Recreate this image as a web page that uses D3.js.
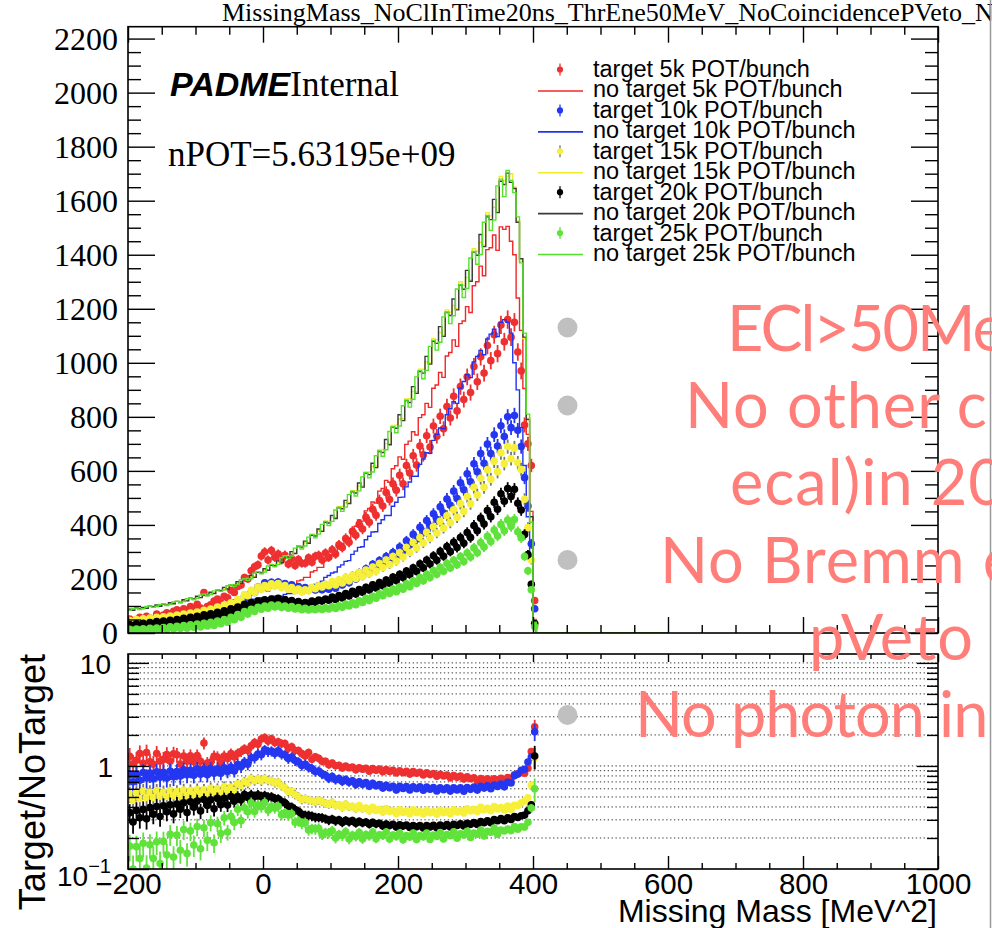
<!DOCTYPE html>
<html>
<head>
<meta charset="utf-8">
<script src="https://cdn.jsdelivr.net/npm/d3@7"></script>
<style>
  html, body { margin: 0; padding: 0; background: #fff; }
  svg { display: block; }
</style>
</head>
<body>
<svg id="chart" width="992" height="928"></svg>
<script>
// ---- binning: 5 MeV^2 bins starting at -200, histogram range ends at 600 ----
const binStart = -200;
const binWidth = 5;
const histEnd = 600;

// ---- tick values ----
const massTicks = [-200, 0, 200, 400, 600, 800, 1000];
const countTicks = [0, 200, 400, 600, 800, 1000, 1200, 1400, 1600, 1800, 2000, 2200];
const ratioTicks = [0.1, 1, 10];

// ---- per-bin contents (121 bins: [-200,-195) ... [400,405)) ----
const target5k = [52,43,50,58, 50,62,55,52, 70,58,66,75, 68,80,86,72, 90,80,98,88, 106,92,150,98, 104,118,126,112, 136,130,158,150, 172,178,205,200, 230,245,252,285,
  300,270,305,280, 292,270,288,255, 275,250,272,258, 258,278,262,284, 288,270,296,280,
  308,292,326,316, 350,336,376,362, 402,385,428,410, 458,436,490,470, 520,494,552,528, 584,552,620,592, 656,622,692,660, 730,688,766,728, 802,756,838,796, 876,822,912,864, 948,890,986,930, 1022,962,1064,1008, 1104,1034,1140,1078,
  1160,1095,1150,1040,970,770,700,620,120];
const noTarget5k = [42,41,44,44, 47,46,50,50, 53,52,57,58, 61,61,67,69, 72,72,78,80, 84,83,90,92, 96,95,103,104, 109,110,120,123, 130,129,140,142, 147,145,155,156,
  159,155,166,166, 170,164,175,172, 179,177,193,196, 206,206,226,231, 243,243,267,273,
  289,291,321,330, 351,350,386,395, 418,414,452,461, 485,481,525,535, 565,558,608,619, 652,643,698,710, 745,733,797,808, 850,835,906,918, 964,946,1025,1038, 1085,1061,1145,1155, 1208,1186,1285,1300, 1358,1322,1419,1426, 1473,1416,1503,1494,
  1505,1450,1400,1240,1120,905,735,450,50];
const target10k = [38,33,41,37, 44,39,47,42, 50,45,53,48, 57,51,60,56, 65,60,70,65, 76,69,81,74, 87,80,93,86, 100,93,109,102, 120,115,134,130, 150,150,170,168,
  186,178,188,180, 189,177,183,172, 178,167,172,162, 168,160,166,159, 165,160,167,162,
  175,166,184,178, 196,186,209,200, 223,212,238,228, 254,241,268,256, 283,268,298,283, 318,304,341,327, 365,348,391,374, 416,395,441,420, 467,444,496,473, 525,498,556,530, 589,560,626,597, 664,628,699,664, 734,692,767,727,
  800,760,805,750,690,575,470,330,90];
const noTarget10k = [46,47,50,51, 51,51,55,56, 57,58,61,63, 64,65,68,70, 71,73,77,80, 81,83,87,90, 92,94,99,101, 104,105,112,114, 116,117,123,125, 125,125,130,131,
  130,129,135,136, 135,136,143,146, 146,148,157,160, 162,165,176,180, 185,192,206,213,
  222,226,244,252, 265,268,291,303, 317,319,345,358, 374,375,405,419, 435,435,469,484, 502,503,541,559, 580,580,624,644, 667,665,713,735, 759,756,808,830, 856,850,907,931, 956,945,1003,1024, 1046,1030,1088,1106, 1124,1097,1150,1160,
  1150,1110,1000,900,760,620,430,270,42];
const target15k = [46,40,50,44, 53,46,55,49, 58,51,60,54, 63,56,66,60, 70,62,74,67, 78,71,84,76, 89,82,96,88, 103,95,112,104, 124,120,142,138, 158,150,170,162,
  176,168,182,174, 183,168,176,162, 168,156,163,152, 160,156,168,164, 175,170,180,175,
  190,178,197,185, 206,193,214,202, 224,209,233,219, 244,229,257,242, 270,253,283,266, 297,281,316,298, 335,315,353,333, 373,351,393,370, 413,388,434,408, 456,428,479,450, 505,478,539,511, 573,539,604,569, 636,597,667,627,
  690,645,685,630,605,495,390,270,36];
const noTarget15k = [86,86,91,91, 93,93,99,99, 101,100,108,107, 109,109,117,117, 120,120,128,128, 132,132,143,143, 147,147,160,160, 164,165,179,180, 185,186,201,202, 208,208,227,227,
  233,233,254,254, 262,262,286,286, 295,295,323,323, 333,334,365,366, 378,378,414,414,
  427,428,467,468, 482,482,527,527, 544,544,596,596, 616,618,678,679, 701,702,768,769, 792,793,866,867, 894,893,976,976, 1004,1000,1089,1086, 1112,1103,1196,1187, 1212,1200,1300,1287, 1316,1308,1422,1414, 1446,1435,1556,1544, 1576,1561,1690,1674,
  1690,1700,1650,1525,1375,1090,795,415,30];
const target20k = [31,24,34,28, 36,28,39,33, 42,32,44,37, 47,37,50,43, 54,42,58,50, 62,48,67,58, 71,56,77,66, 82,68,90,80, 96,86,106,98, 112,104,118,112,
  123,116,126,120, 128,118,124,115, 120,111,116,108, 113,110,118,114, 122,118,126,121,
  133,124,139,130, 146,137,154,144, 161,151,169,159, 178,167,187,175, 196,184,207,194, 217,205,229,216, 241,228,256,241, 270,255,286,269, 302,284,320,301, 336,316,353,332, 372,353,398,378, 425,403,453,430, 484,458,515,488,
  535,505,532,480,455,365,290,180,35];
const noTarget20k = [88,84,92,89, 95,91,99,97, 104,99,107,103, 112,108,117,113, 123,119,129,126, 136,131,142,140, 151,146,159,157, 169,163,178,176, 190,184,201,198, 213,206,225,222,
  238,232,251,249, 267,261,283,281, 301,294,320,318, 340,332,362,359, 385,376,410,407,
  435,424,463,460, 491,479,523,518, 555,540,591,586, 628,612,672,668, 716,697,762,758, 808,786,860,853, 912,887,968,962, 1024,995,1080,1072, 1134,1098,1186,1175, 1236,1196,1288,1272, 1342,1302,1410,1398, 1475,1430,1540,1530, 1605,1556,1672,1660,
  1702,1668,1645,1520,1385,1095,790,430,28];
const target25k = [14,9,15,11, 16,10,17,12, 18,12,20,14, 23,15,25,17, 28,18,30,21, 33,22,36,26, 40,28,44,34, 50,40,58,49, 68,58,79,70, 88,80,95,88,
  100,92,103,96, 103,94,100,92, 98,89,94,86, 91,85,90,86, 91,87,93,89,
  97,91,101,95, 107,100,112,105, 119,113,128,120, 136,129,145,138, 155,146,163,153, 171,162,182,171, 193,183,205,193, 217,205,231,217, 243,229,257,241, 269,253,283,265, 296,281,315,297, 335,318,358,339, 381,359,402,378,
  418,395,420,375,352,283,230,160,24];
const noTarget25k = [84,90,91,87, 90,98,99,95, 98,106,108,102, 106,115,117,112, 116,127,128,123, 128,140,143,137, 142,156,160,154, 159,175,179,173, 179,197,201,195, 201,221,227,219,
  226,248,254,245, 254,279,285,276, 285,314,322,311, 322,355,365,352, 366,402,413,398,
  413,455,466,450, 466,512,525,507, 526,578,593,574, 596,656,674,654, 678,746,764,741, 766,841,862,836, 865,948,971,941, 972,1061,1083,1047, 1076,1170,1188,1145, 1174,1273,1290,1242, 1275,1388,1412,1365, 1401,1520,1545,1490, 1528,1655,1680,1615,
  1712,1675,1630,1540,1370,1110,810,410,40];

// ---- labels ----
const intensities = ["5k", "10k", "15k", "20k", "25k"];
const legendLabels = [
  "target 5k POT/bunch", "no target 5k POT/bunch",
  "target 10k POT/bunch", "no target 10k POT/bunch",
  "target 15k POT/bunch", "no target 15k POT/bunch",
  "target 20k POT/bunch", "no target 20k POT/bunch",
  "target 25k POT/bunch", "no target 25k POT/bunch"
];
const titleText = "MissingMass_NoClInTime20ns_ThrEne50MeV_NoCoincidencePVeto_N";
const nPotText = "nPOT=5.63195e+09";
const slideLines = ["ECl>50MeV", "No other cl", "ecal)in 20ns", "No Bremm ev", "pVeto", "No photon in"];

// ---- styles ----
const markerFill = ["#ee3030", "#2436f0", "#f6f03a", "#000000", "#5fe23a"];
const errStroke  = ["#ee3030", "#2436f0", "#777777", "#000000", "#5fe23a"];
const lineStroke = ["#f02828", "#2233ee", "#f2ea2a", "#3a3a3a", "#55e02c"];
const serif = "'Liberation Serif','Times New Roman',serif";
const sans = "'Liberation Sans',Arial,Helvetica,sans-serif";

const targets = [target5k, target10k, target15k, target20k, target25k];
const noTargets = [noTarget5k, noTarget10k, noTarget15k, noTarget20k, noTarget25k];

const svg = d3.select("#chart");
svg.append("rect").attr("width", 992).attr("height", 928).attr("fill", "#fff");

// ---- scales ----
const x = d3.scaleLinear().domain([-200, 1000]).range([128, 938]);
const y = d3.scaleLinear().domain([0, 2244]).range([633, 26.7]);
const yr = d3.scaleLog().domain([0.1, 12.2]).range([869, 654]);

const centerOf = i => binStart + binWidth * (i + 0.5);
const edgeOf = i => binStart + binWidth * i;

function plainTicks(sel, axis, width) {
  sel.call(axis);
  sel.select(".domain").remove();
  sel.selectAll(".tick line").attr("stroke", "#000").attr("stroke-width", width);
  return sel;
}
const minorRange = (a, b, step, skip) => d3.range(a, b + 1e-9, step).filter(v => !skip.includes(v));

// ================= upper pad =================
svg.append("text")
  .attr("x", 222).attr("y", 21)
  .attr("font-family", serif).attr("font-size", 26)
  .text(titleText);

svg.append("clipPath").attr("id", "upClip")
  .append("rect").attr("x", 128).attr("y", 26.7).attr("width", 810).attr("height", 606.3);

const upData = svg.append("g").attr("clip-path", "url(#upClip)");

const stepLine = d3.line()
  .x(d => x(d[0])).y(d => y(d[1]))
  .curve(d3.curveStepAfter);

function histPoints(vals) {
  const pts = vals.map((v, i) => [edgeOf(i), v]);
  const last = edgeOf(vals.length);
  pts.push([last, 0], [histEnd, 0]);
  return pts;
}

intensities.forEach((name, k) => {
  // target markers with statistical error bars
  const g = upData.append("g");
  targets[k].forEach((v, i) => {
    if (v <= 0) return;
    const e = Math.sqrt(v);
    const cx = x(centerOf(i));
    g.append("line")
      .attr("x1", cx).attr("x2", cx)
      .attr("y1", y(v - e)).attr("y2", y(v + e))
      .attr("stroke", errStroke[k]).attr("stroke-width", 1.8);
    g.append("circle")
      .attr("cx", cx).attr("cy", y(v)).attr("r", 3.8)
      .attr("fill", markerFill[k]);
  });
  // no-target histogram
  upData.append("path")
    .attr("d", stepLine(histPoints(noTargets[k])))
    .attr("fill", "none")
    .attr("stroke", lineStroke[k]).attr("stroke-width", 1.4);
});

// frame and ticks
svg.append("rect").attr("x", 128).attr("y", 26.7).attr("width", 810).attr("height", 606.3)
  .attr("fill", "none").attr("stroke", "#000").attr("stroke-width", 1.6);

const countMinor = minorRange(0, 2200, 50, countTicks);
const massMinor = minorRange(-200, 1000, 50, massTicks);

plainTicks(svg.append("g").attr("transform", "translate(128,0)"),
  d3.axisRight(y).tickValues(countTicks).tickSize(27).tickFormat(""), 1.4);
plainTicks(svg.append("g").attr("transform", "translate(128,0)"),
  d3.axisRight(y).tickValues(countMinor).tickSize(13).tickFormat(""), 1.4);
plainTicks(svg.append("g").attr("transform", "translate(938,0)"),
  d3.axisLeft(y).tickValues(countTicks).tickSize(27).tickFormat(""), 1.4);
plainTicks(svg.append("g").attr("transform", "translate(938,0)"),
  d3.axisLeft(y).tickValues(countMinor).tickSize(13).tickFormat(""), 1.4);
plainTicks(svg.append("g").attr("transform", "translate(0,26.7)"),
  d3.axisBottom(x).tickValues(massTicks).tickSize(16).tickFormat(""), 1.4);
plainTicks(svg.append("g").attr("transform", "translate(0,26.7)"),
  d3.axisBottom(x).tickValues(massMinor).tickSize(8).tickFormat(""), 1.4);
plainTicks(svg.append("g").attr("transform", "translate(0,633)"),
  d3.axisTop(x).tickValues(massTicks).tickSize(16).tickFormat(""), 1.4);
plainTicks(svg.append("g").attr("transform", "translate(0,633)"),
  d3.axisTop(x).tickValues(massMinor).tickSize(8).tickFormat(""), 1.4);

const countLabels = svg.append("g").attr("transform", "translate(128,0)")
  .call(d3.axisLeft(y).tickValues(countTicks).tickSize(0).tickPadding(10).tickFormat(d3.format("d")));
countLabels.select(".domain").remove();
countLabels.selectAll("text")
  .attr("font-family", serif).attr("font-size", 32).attr("fill", "#000")
  .attr("dy", "0.34em");

// PADME Internal / nPOT
const tag = svg.append("text").attr("x", 170).attr("y", 96);
tag.append("tspan").attr("font-family", sans).attr("font-weight", "bold").attr("font-style", "italic")
  .attr("font-size", 34).text("PADME");
tag.append("tspan").attr("font-family", serif).attr("font-size", 35).text("Internal");
svg.append("text").attr("x", 168).attr("y", 166)
  .attr("font-family", serif).attr("font-size", 35).text(nPotText);

// legend
const legend = svg.append("g");
legendLabels.forEach((lab, r) => {
  const k = Math.floor(r / 2);
  const cy = 69.5 + 20.45 * r;
  if (r % 2 === 0) {
    legend.append("line").attr("x1", 560).attr("x2", 560).attr("y1", cy - 6).attr("y2", cy + 6)
      .attr("stroke", errStroke[k]).attr("stroke-width", 1.3);
    legend.append("circle").attr("cx", 560).attr("cy", cy).attr("r", 3.1).attr("fill", markerFill[k]);
  } else {
    legend.append("line").attr("x1", 538).attr("x2", 583).attr("y1", cy + 1).attr("y2", cy + 1)
      .attr("stroke", lineStroke[k]).attr("stroke-width", 1.6);
  }
  legend.append("text").attr("x", 593).attr("y", cy + 7.5)
    .attr("font-family", sans).attr("font-size", 23.5).text(lab);
});

// ================= ratio pad =================
svg.append("rect").attr("x", 0).attr("y", 646).attr("width", 975).attr("height", 282).attr("fill", "#fff");

const ratioGrid = [0.2,0.3,0.4,0.5,0.6,0.7,0.8,0.9,1,2,3,4,5,6,7,8,9,10];
const ratioMinor = [0.2,0.3,0.4,0.5,0.6,0.7,0.8,0.9,2,3,4,5,6,7,8,9];

svg.append("g").selectAll("line").data(ratioGrid).join("line")
  .attr("x1", 128).attr("x2", 938)
  .attr("y1", d => yr(d)).attr("y2", d => yr(d))
  .attr("stroke", "#333").attr("stroke-width", 1).attr("stroke-dasharray", "1.3,2.6");

svg.append("clipPath").attr("id", "ratioClip")
  .append("rect").attr("x", 128).attr("y", 654).attr("width", 810).attr("height", 215);
const ratioData = svg.append("g").attr("clip-path", "url(#ratioClip)");

intensities.forEach((name, k) => {
  const g = ratioData.append("g");
  targets[k].forEach((t, i) => {
    const n = noTargets[k][i];
    if (t <= 0 || n <= 0) return;
    const r = t / n;
    const e = r * Math.sqrt(1 / t + 1 / n);
    const cx = x(centerOf(i));
    g.append("line")
      .attr("x1", cx).attr("x2", cx)
      .attr("y1", yr(Math.max(r - e, 0.05))).attr("y2", yr(r + e))
      .attr("stroke", errStroke[k]).attr("stroke-width", 1.8);
    g.append("circle").attr("cx", cx).attr("cy", yr(r)).attr("r", 3.8).attr("fill", markerFill[k]);
  });
});

svg.append("rect").attr("x", 128).attr("y", 654).attr("width", 810).attr("height", 215)
  .attr("fill", "none").attr("stroke", "#000").attr("stroke-width", 1.6);

plainTicks(svg.append("g").attr("transform", "translate(128,0)"),
  d3.axisRight(yr).tickValues(ratioTicks).tickSize(21).tickFormat(""), 1.4);
plainTicks(svg.append("g").attr("transform", "translate(128,0)"),
  d3.axisRight(yr).tickValues(ratioMinor).tickSize(11).tickFormat(""), 1.4);
plainTicks(svg.append("g").attr("transform", "translate(938,0)"),
  d3.axisLeft(yr).tickValues(ratioTicks).tickSize(21).tickFormat(""), 1.4);
plainTicks(svg.append("g").attr("transform", "translate(938,0)"),
  d3.axisLeft(yr).tickValues(ratioMinor).tickSize(11).tickFormat(""), 1.4);
plainTicks(svg.append("g").attr("transform", "translate(0,654)"),
  d3.axisBottom(x).tickValues(massTicks).tickSize(8).tickFormat(""), 1.4);
plainTicks(svg.append("g").attr("transform", "translate(0,654)"),
  d3.axisBottom(x).tickValues(massMinor).tickSize(5).tickFormat(""), 1.4);
plainTicks(svg.append("g").attr("transform", "translate(0,869)"),
  d3.axisTop(x).tickValues(massTicks).tickSize(13).tickFormat(""), 1.4);
plainTicks(svg.append("g").attr("transform", "translate(0,869)"),
  d3.axisTop(x).tickValues(massMinor).tickSize(6).tickFormat(""), 1.4);

// mass axis labels
const massLabels = svg.append("g").attr("transform", "translate(0,869)")
  .call(d3.axisBottom(x).tickValues(massTicks).tickSize(0).tickPadding(0).tickFormat(d3.format("d")));
massLabels.select(".domain").remove();
massLabels.selectAll("text")
  .attr("font-family", sans).attr("font-size", 29.5).attr("fill", "#000")
  .attr("dy", null).attr("y", 25);

// ratio axis labels
svg.append("text").attr("x", 111).attr("y", yr(10) + 11)
  .attr("text-anchor", "end").attr("font-family", sans).attr("font-size", 28).text("10");
svg.append("text").attr("x", 113).attr("y", yr(1) + 11)
  .attr("text-anchor", "end").attr("font-family", sans).attr("font-size", 28).text("1");
const tenth = svg.append("text").attr("x", 111).attr("y", 886)
  .attr("text-anchor", "end").attr("font-family", sans).attr("font-size", 28);
tenth.append("tspan").text("10");
tenth.append("tspan").attr("font-size", 20).attr("dy", -13).text("\u22121");

svg.append("text")
  .attr("transform", "translate(45,654) rotate(-90)")
  .attr("text-anchor", "end").attr("font-family", sans).attr("font-size", 36)
  .text("Target/NoTarget");
svg.append("text").attr("x", 937).attr("y", 922)
  .attr("text-anchor", "end").attr("font-family", sans).attr("font-size", 32)
  .text("Missing Mass [MeV^2]");

// ================= slide annotations =================
svg.append("line").attr("x1", 990.5).attr("x2", 990.5).attr("y1", 0).attr("y2", 928)
  .attr("stroke", "#999").attr("stroke-width", 1.5);

const bulletY = [327.5, 405.5, 560, 715];
svg.append("g").selectAll("circle").data(bulletY).join("circle")
  .attr("cx", 567.5).attr("cy", d => d).attr("r", 10).attr("fill", "#c0c0c0");

const slideX = [727, 685, 730, 660, 809, 635];
const slideY = [351, 428, 505, 583, 660, 737];
const slideSpacing = [-2, 1, 1, 1, 1, -1];
svg.append("g").selectAll("text").data(slideLines).join("text")
  .attr("x", (d, i) => slideX[i]).attr("y", (d, i) => slideY[i])
  .attr("font-family", "Lato, 'Open Sans', sans-serif").attr("font-size", 63)
  .attr("letter-spacing", (d, i) => slideSpacing[i])
  .attr("fill", "#ff7e79")
  .text(d => d);
</script>
</body>
</html>
